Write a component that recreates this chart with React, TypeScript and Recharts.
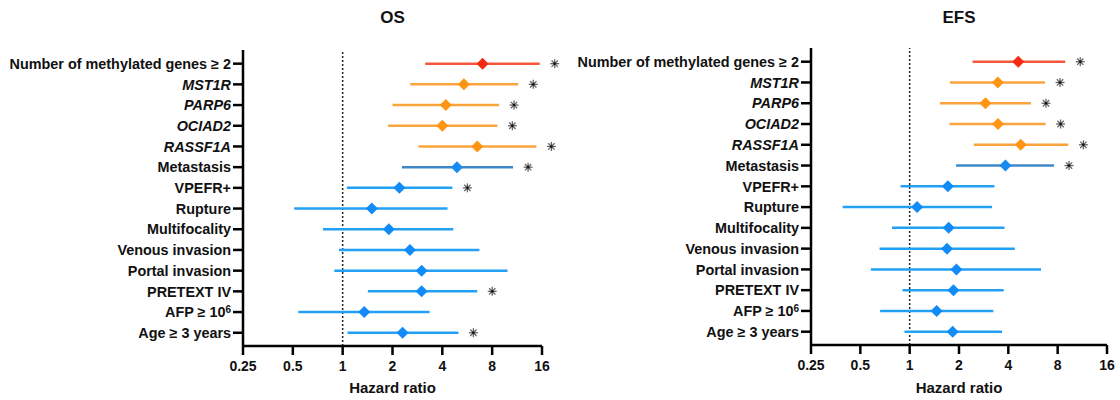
import { ScatterChart, Scatter, XAxis, YAxis, ErrorBar, ReferenceLine } from 'recharts';

const rowLabels = [
  'Number of methylated genes ≥ 2',
  'MST1R',
  'PARP6',
  'OCIAD2',
  'RASSF1A',
  'Metastasis',
  'VPEFR+',
  'Rupture',
  'Multifocality',
  'Venous invasion',
  'Portal invasion',
  'PRETEXT IV',
  'AFP ≥ 10',
  'Age ≥ 3 years',
];
const italicRows = [1, 2, 3, 4];
const superscripts: Record<number, string> = { 12: '6' };
const rowGroups = ['red', 'orange', 'orange', 'orange', 'orange', 'steel', 'blue', 'blue', 'blue', 'blue', 'blue', 'blue', 'blue', 'blue'];
const hrTicks = [0.25, 0.5, 1, 2, 4, 8, 16];

// OS
const osHr = [7.0, 5.4, 4.2, 4.0, 6.5, 4.9, 2.2, 1.5, 1.9, 2.55, 3.0, 3.0, 1.35, 2.3];
const osLower = [3.15, 2.56, 2.0, 1.88, 2.87, 2.28, 1.06, 0.51, 0.76, 0.95, 0.89, 1.42, 0.54, 1.07];
const osUpper = [15.5, 11.5, 8.8, 8.6, 14.8, 10.7, 4.6, 4.3, 4.66, 6.7, 9.9, 6.5, 3.35, 5.0];
const osSignificant = [true, true, true, true, true, true, true, false, false, false, false, true, false, true];

// EFS
const efsHr = [4.6, 3.45, 2.9, 3.46, 4.76, 3.84, 1.71, 1.11, 1.73, 1.69, 1.93, 1.85, 1.46, 1.83];
const efsLower = [2.42, 1.76, 1.53, 1.75, 2.46, 1.92, 0.88, 0.39, 0.78, 0.655, 0.58, 0.905, 0.66, 0.93];
const efsUpper = [8.9, 6.7, 5.5, 6.75, 9.3, 7.6, 3.29, 3.18, 3.79, 4.38, 6.33, 3.75, 3.24, 3.66];
const efsSignificant = [true, true, true, true, true, true, false, false, false, false, false, false, false, false];

const COLORS: Record<string, { line: string; marker: string }> = {
  red: { line: '#f7583c', marker: '#f42a12' },
  orange: { line: '#fba43c', marker: '#ff9512' },
  steel: { line: '#3c88c6', marker: '#168cf2' },
  blue: { line: '#22a0f5', marker: '#118bf7' },
};

const FONT = '"Liberation Sans", Arial, Helvetica, sans-serif';

function Diamond(props: any) {
  const { cx, cy, fill } = props;
  if (cx == null || cy == null) return null;
  const r = 6;
  return <path d={`M${cx},${cy - r}L${cx + r},${cy}L${cx},${cy + r}L${cx - r},${cy}Z`} fill={fill} />;
}

function Asterisk(props: any) {
  const { cx, cy } = props;
  if (cx == null || cy == null) return null;
  const x = cx + 15;
  const r = 4.5;
  const d = r * 0.7071;
  return (
    <g stroke="#666" strokeWidth={1.3}>
      <line x1={x - r} y1={cy} x2={x + r} y2={cy} />
      <line x1={x} y1={cy - r} x2={x} y2={cy + r} />
      <line x1={x - d} y1={cy - d} x2={x + d} y2={cy + d} />
      <line x1={x - d} y1={cy + d} x2={x + d} y2={cy - d} />
      <circle cx={x} cy={cy} r={1.3} fill="#111" stroke="none" />
    </g>
  );
}

function RowTick(props: any) {
  const { x, y, payload } = props;
  const i = payload.value as number;
  const sup = superscripts[i];
  return (
    <text
      x={x}
      y={y}
      dy="0.36em"
      textAnchor="end"
      fontFamily={FONT}
      fontSize={14.4}
      fontWeight={700}
      fontStyle={italicRows.includes(i) ? 'italic' : 'normal'}
      fill="#111"
    >
      {rowLabels[i]}
      {sup && (
        <tspan dy="-0.45em" fontSize={10}>
          {sup}
        </tspan>
      )}
    </text>
  );
}

interface PanelProps {
  title: string;
  hr: number[];
  lower: number[];
  upper: number[];
  significant: boolean[];
  left: number;
  width: number;
  yAxisWidth: number;
  marginTop: number;
  marginRight: number;
  xAxisHeight: number;
}

function ForestPanel({ title, hr, lower, upper, significant, left, width, yAxisWidth, marginTop, marginRight, xAxisHeight }: PanelProps) {
  const rows = hr.map((v, i) => ({ x: v, y: i, err: [v - lower[i], upper[i] - v], group: rowGroups[i] }));
  const groups = ['blue', 'steel', 'orange', 'red'];
  const stars = hr.map((_, i) => ({ x: upper[i], y: i })).filter((_, i) => significant[i]);
  const plotCenter = yAxisWidth + (width - yAxisWidth - marginRight) / 2;
  const textStyle = { fontFamily: FONT, fontWeight: 700, color: '#111', textAlign: 'center' as const };

  return (
    <div style={{ position: 'absolute', left, top: 0, width, height: 400 }}>
      <div style={{ ...textStyle, position: 'absolute', left: plotCenter - 50, width: 100, top: 8, fontSize: 17 }}>
        {title}
      </div>
      <ScatterChart width={width} height={400} margin={{ top: marginTop, right: marginRight, bottom: 0, left: 0 }}>
        <XAxis
          type="number"
          dataKey="x"
          scale="log"
          domain={[0.25, 16]}
          ticks={hrTicks}
          height={xAxisHeight}
          tickSize={9}
          tickMargin={6}
          axisLine={{ stroke: '#000', strokeWidth: 2.5 }}
          tickLine={{ stroke: '#000', strokeWidth: 2.5 }}
          tick={{ fill: '#111', fontSize: 14, fontWeight: 700, fontFamily: FONT }}
        />
        <YAxis
          type="number"
          dataKey="y"
          reversed
          domain={[-0.66, 13.64]}
          ticks={rowLabels.map((_, i) => i)}
          interval={0}
          width={yAxisWidth}
          tickSize={10}
          tickMargin={2}
          axisLine={{ stroke: '#000', strokeWidth: 2.5 }}
          tickLine={{ stroke: '#000', strokeWidth: 2.5 }}
          tick={<RowTick />}
        />
        <ReferenceLine x={1} stroke="#222" strokeWidth={1.5} strokeDasharray="2 2" />
        {groups.map((g) => (
          <Scatter
            key={g}
            data={rows.filter((r) => r.group === g)}
            fill={COLORS[g].marker}
            shape={(p: any) => <Diamond {...p} />}
            isAnimationActive={false}
          >
            <ErrorBar dataKey="err" direction="x" width={0} stroke={COLORS[g].line} strokeWidth={2.5} isAnimationActive={false} />
          </Scatter>
        ))}
        <Scatter data={stars} fill="#666" shape={(p: any) => <Asterisk {...p} />} isAnimationActive={false} />
      </ScatterChart>
      <div
        style={{ ...textStyle, position: 'absolute', left: plotCenter - 80, width: 160, top: 379, fontSize: 15, lineHeight: '18px' }}
      >
        Hazard ratio
      </div>
    </div>
  );
}

export default function App() {
  return (
    <div style={{ position: 'relative', width: 1120, height: 400, background: '#fff' }}>
      <style>{'body{margin:0}'}</style>
      <ForestPanel
        title="OS"
        hr={osHr}
        lower={osLower}
        upper={osUpper}
        significant={osSignificant}
        left={0}
        width={560}
        yAxisWidth={243}
        marginTop={50}
        marginRight={18}
        xAxisHeight={54}
      />
      <ForestPanel
        title="EFS"
        hr={efsHr}
        lower={efsLower}
        upper={efsUpper}
        significant={efsSignificant}
        left={560}
        width={560}
        yAxisWidth={251}
        marginTop={48}
        marginRight={13}
        xAxisHeight={55}
      />
    </div>
  );
}
